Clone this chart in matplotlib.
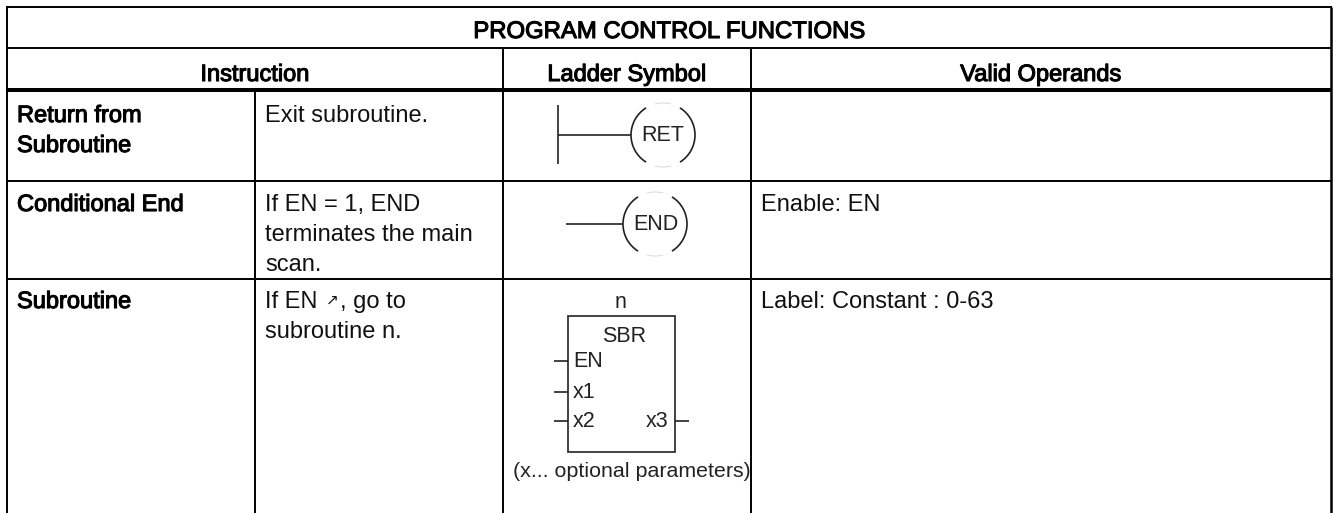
import matplotlib
matplotlib.use("Agg")
import matplotlib.pyplot as plt
import matplotlib.patheffects as pe
from matplotlib.patches import Arc, Rectangle

# table text
title = "PROGRAM CONTROL FUNCTIONS"
headers = ["Instruction", "Ladder Symbol", "Valid Operands"]
names = [["Return from", "Subroutine"], ["Conditional End"], ["Subroutine"]]
descriptions = [["Exit subroutine."], ["If EN = 1, END", "terminates the main", "scan."], ["If EN", "subroutine n."]]
rising_edge = "\u2197"
go_to = ", go to"
operands = ["", "Enable: EN", "Label: Constant : 0-63"]
sbr_inputs = ["EN", "x1", "x2"]
sbr_output = "x3"
note = "(x... optional parameters)"

plt.rcParams['font.family'] = ['Liberation Sans', 'DejaVu Sans']

W, H = 1333, 513
fig = plt.figure(figsize=(W / 100, H / 100), dpi=100)
ax = fig.add_axes([0, 0, 1, 1])
ax.set_xlim(0, W)
ax.set_ylim(H, 0)
ax.axis('off')

FS = 17
SYM = 15.5
INK = '#222222'
STEP = 30
row_base = [122, 211, 308]
bold = [pe.withStroke(linewidth=0.8, foreground='black')]


def line(xs, ys, lw=1.4, color='black'):
    ax.plot(xs, ys, color=color, lw=lw, solid_capstyle='butt')


def coil(cx, cy):
    # two arcs with the faint top/bottom caps between them
    ax.add_patch(Arc((cx, cy), 64, 64, theta1=122, theta2=238, color=INK, lw=1.2))
    ax.add_patch(Arc((cx, cy), 64, 64, theta1=-58, theta2=58, color=INK, lw=1.2))
    ax.add_patch(Arc((cx, cy), 64, 64, theta1=75, theta2=105, color='#dddddd', lw=0.8))
    ax.add_patch(Arc((cx, cy), 64, 64, theta1=255, theta2=285, color='#dddddd', lw=0.8))


# grid
line([6, 1332], [7, 7])
line([6, 1332], [48, 48])
line([6, 1332], [90, 90], lw=2.9)
line([6, 1332], [181, 181])
line([6, 1332], [279, 279])
line([7, 7], [7, 513])
line([1330.5, 1330.5], [7, 513], lw=1.8)
line([255, 255], [90, 513])
line([503, 503], [48, 513])
line([751, 751], [48, 513])

ax.text(669, 38, title, ha='center', va='baseline', fontsize=17.2, path_effects=bold)
ax.text(255, 81, headers[0], ha='center', va='baseline', fontsize=FS, path_effects=bold)
ax.text(627, 81, headers[1], ha='center', va='baseline', fontsize=FS, path_effects=bold)
ax.text(1041, 81, headers[2], ha='center', va='baseline', fontsize=FS, path_effects=bold)

# body rows, one text per line so the spacing follows the picture
for i in range(3):
    for j, s in enumerate(names[i]):
        ax.text(17, row_base[i] + j * STEP, s, va='baseline', fontsize=FS, path_effects=bold)
    for j, s in enumerate(descriptions[i]):
        ax.text(265, row_base[i] + j * STEP, s, va='baseline', fontsize=FS, color='#111111')
    ax.text(761, row_base[i], operands[i], va='baseline', fontsize=FS, color='#111111')
ax.text(326, row_base[2] - 3, rising_edge, va='baseline', fontsize=11, color='#111111')
ax.text(340, row_base[2], go_to, va='baseline', fontsize=FS, color='#111111')

# RET symbol
line([558, 558], [105, 164], lw=1.2, color=INK)
line([558, 631], [135, 135], lw=1.2, color=INK)
coil(663, 135)
ax.text(663, 141, "RET", ha='center', va='baseline', fontsize=SYM, color=INK)

# END symbol
line([566, 623], [224, 224], lw=1.2, color=INK)
coil(655, 224)
ax.text(656, 230, "END", ha='center', va='baseline', fontsize=SYM, color=INK)

# SBR box
ax.add_patch(Rectangle((568, 316), 107, 136, fill=False, ec=INK, lw=1.2))
ax.text(621, 308, "n", ha='center', va='baseline', fontsize=SYM, color=INK)
ax.text(624, 342, "SBR", ha='center', va='baseline', fontsize=SYM, color=INK)
for label, y, base in zip(sbr_inputs, [361, 392, 421], [367, 398, 427]):
    line([554, 568], [y, y], lw=1.2, color=INK)
    ax.text(573, base, label, va='baseline', fontsize=SYM, color=INK)
line([675, 689], [421, 421], lw=1.2, color=INK)
ax.text(668, 427, sbr_output, ha='right', va='baseline', fontsize=SYM, color=INK)
ax.text(513, 477, note, ha='left', va='baseline', fontsize=15.4, color=INK)

fig.savefig("out.png", dpi=100)
